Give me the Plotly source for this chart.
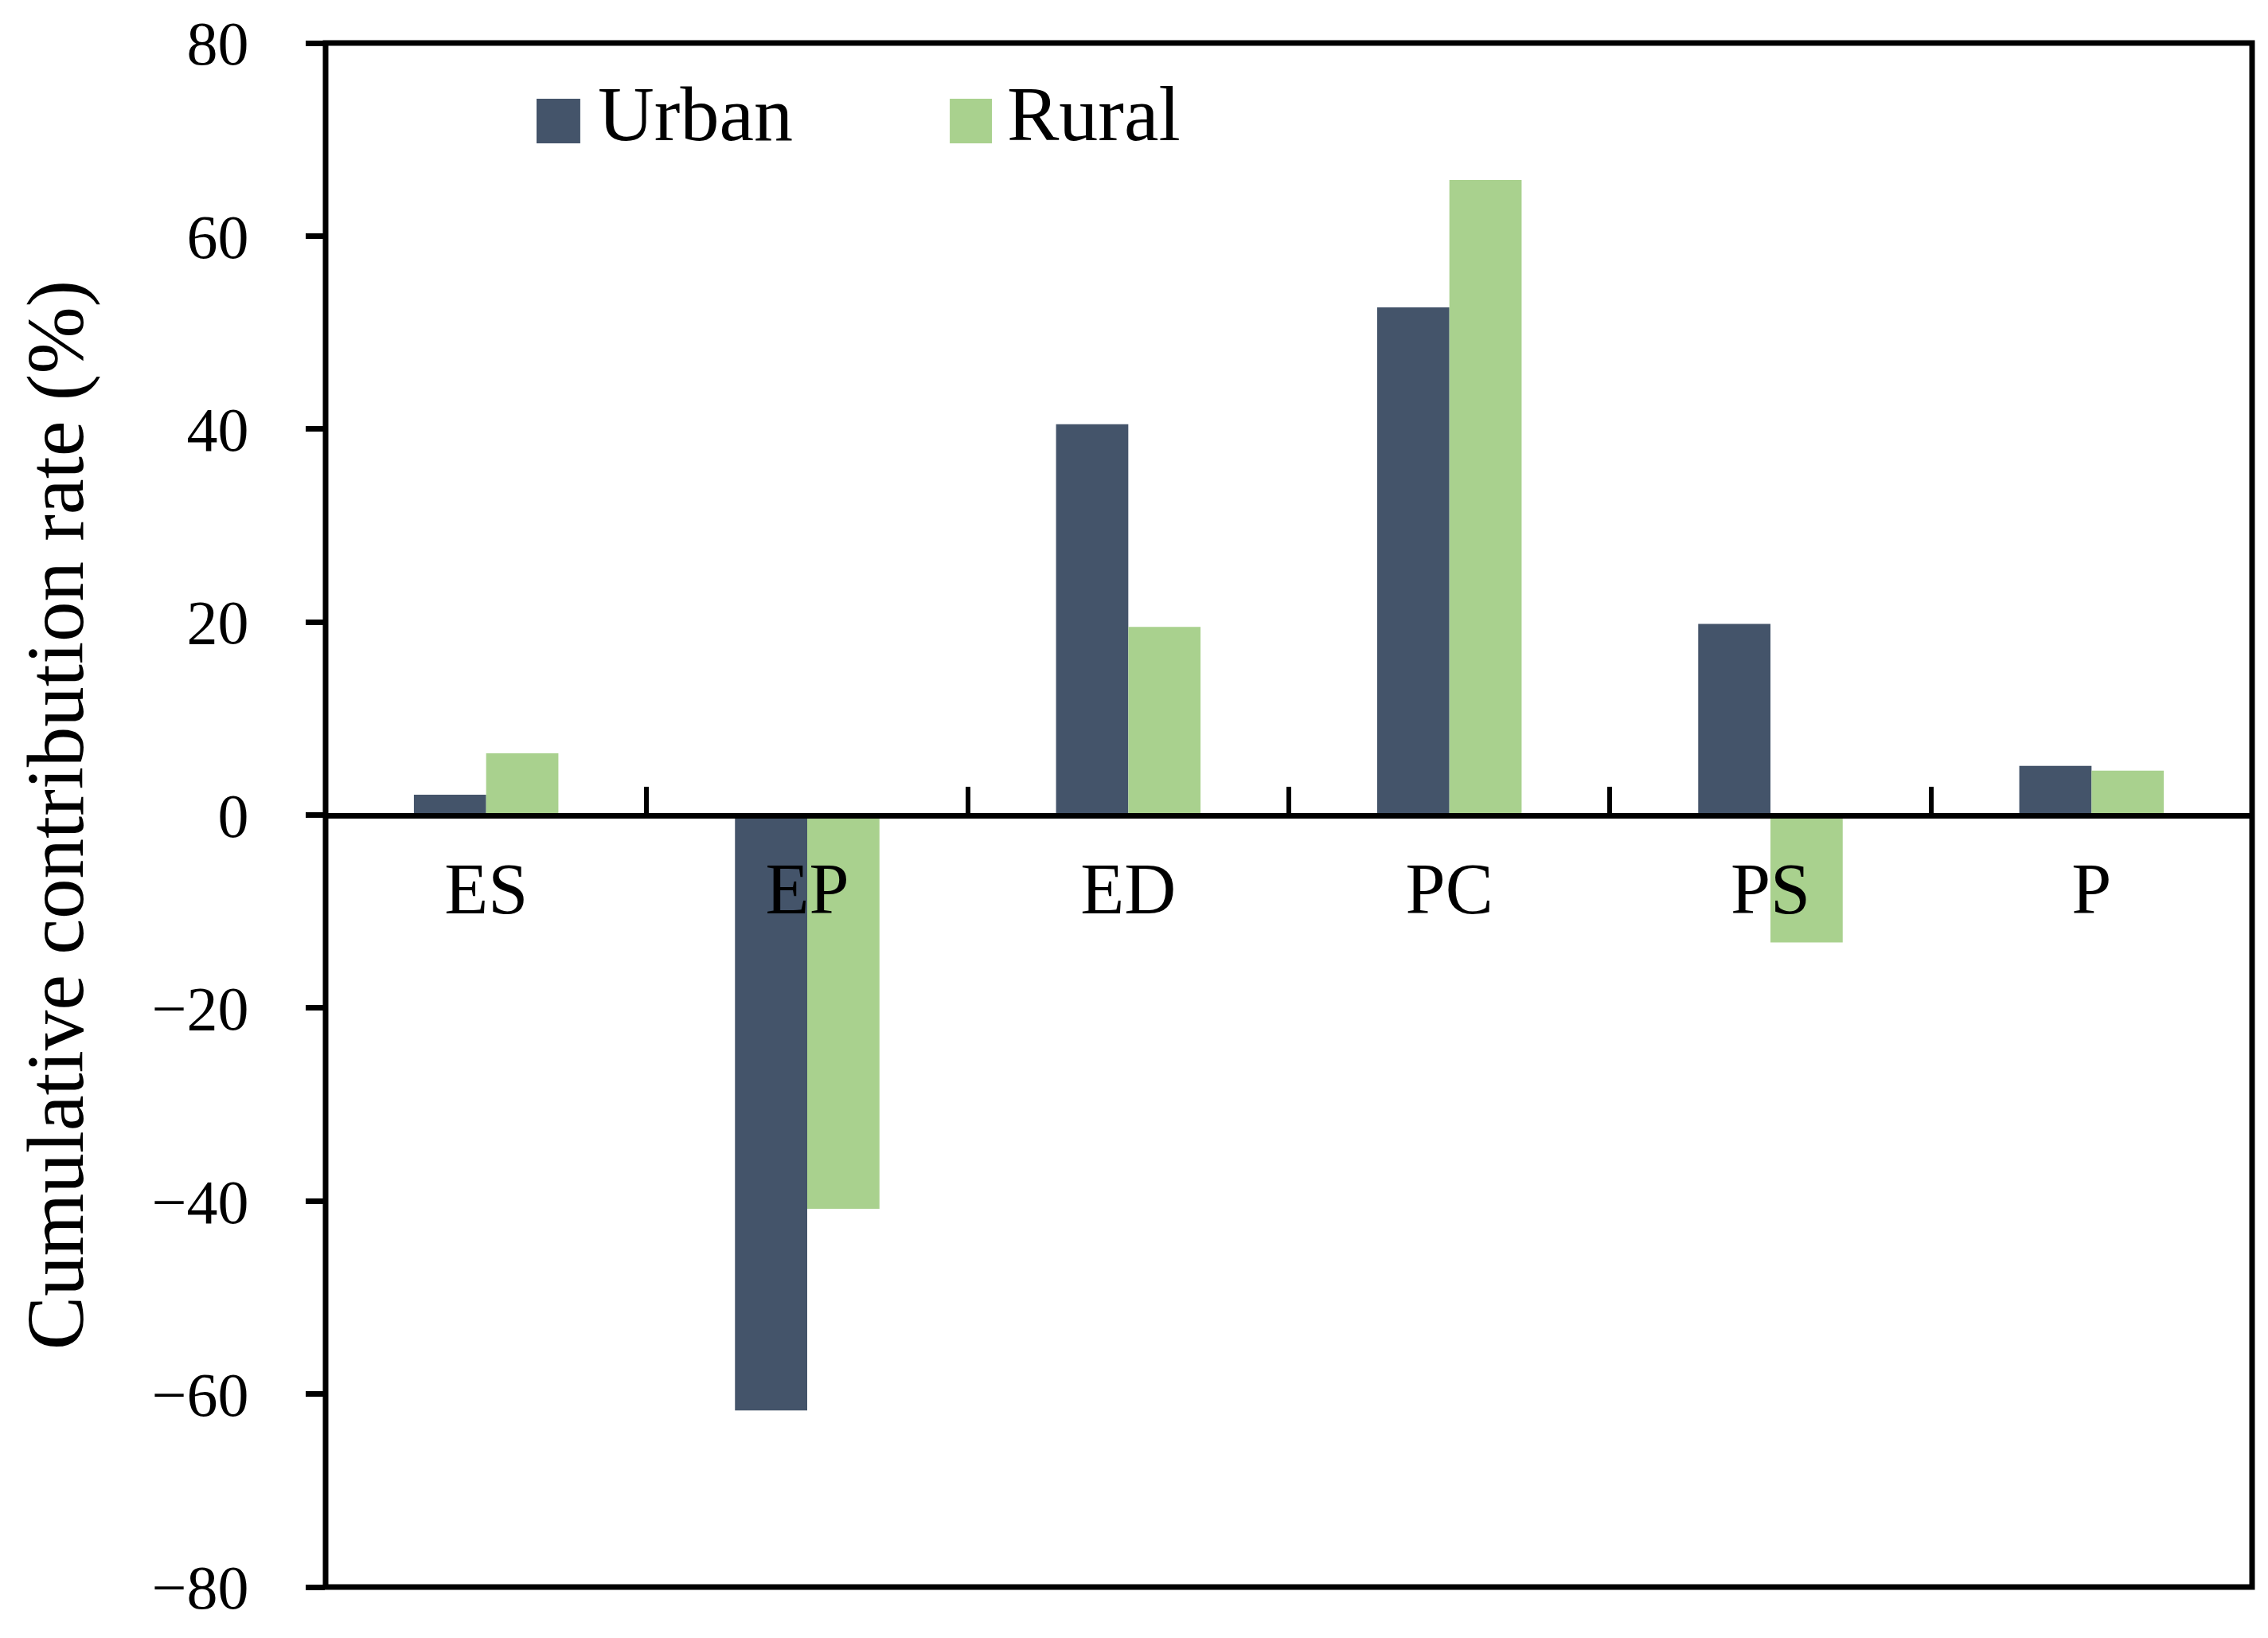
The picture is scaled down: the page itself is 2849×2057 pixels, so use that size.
import plotly.graph_objects as go

categories = ["ES", "EP", "ED", "PC", "PS", "P"]
urban = [2.1, -61.7, 40.5, 52.6, 19.8, 5.1]
rural = [6.4, -40.8, 19.5, 65.8, -13.2, 4.6]
y_ticks = [80, 60, 40, 20, 0, -20, -40, -60, -80]

URBAN_COLOR = "#44546A"
RURAL_COLOR = "#A9D18E"
FONT = "Liberation Serif"

fig = go.Figure()
fig.add_trace(go.Bar(name="Urban", x=categories, y=urban,
                     marker=dict(color=URBAN_COLOR, line=dict(width=0)),
                     showlegend=False))
fig.add_trace(go.Bar(name="Rural", x=categories, y=rural,
                     marker=dict(color=RURAL_COLOR, line=dict(width=0)),
                     showlegend=False))

fig.update_layout(
    width=2833, height=2041,
    paper_bgcolor="white", plot_bgcolor="white",
    barmode="group", bargap=0.55, bargroupgap=0,
    margin=dict(l=401, r=12, t=46, b=56, autoexpand=False),
    font=dict(family=FONT, color="black"),
    xaxis=dict(
        type="category", range=[-0.5, 5.5],
        anchor="free", position=0.5,
        showline=True, linewidth=7, linecolor="black",
        ticks="inside", tickson="boundaries", ticklen=33, tickwidth=6,
        tickcolor="black", showgrid=False, zeroline=False,
        tickfont=dict(family=FONT, size=90, color="black"),
        ticklabelstandoff=11,
    ),
    yaxis=dict(
        range=[-80, 80], tickvals=y_ticks, domain=[0, 1],
        showline=False, zeroline=False, showgrid=False,
        ticks="outside", ticklen=24, tickwidth=7, tickcolor="black",
        tickfont=dict(family=FONT, size=78, color="black"),
        ticklabelstandoff=56,
        title=dict(text="Cumulative contribution rate (%)",
                   font=dict(family=FONT, size=101, color="black"),
                   standoff=52),
        automargin=False,
    ),
    shapes=[
        dict(type="rect", xref="paper", yref="paper", x0=0, x1=1, y0=0, y1=1,
             line=dict(color="black", width=7), layer="above"),
        dict(type="rect", xref="paper", yref="paper",
             x0=0.1095, x1=0.1322, y0=0.935, y1=0.9639,
             fillcolor=URBAN_COLOR, line=dict(width=0)),
        dict(type="rect", xref="paper", yref="paper",
             x0=0.324, x1=0.3459, y0=0.935, y1=0.9639,
             fillcolor=RURAL_COLOR, line=dict(width=0)),
    ],
    annotations=[
        dict(text="Urban", xref="paper", yref="paper", x=0.1405, y=0.954,
             xanchor="left", yanchor="middle", showarrow=False,
             font=dict(family=FONT, size=98, color="black")),
        dict(text="Rural", xref="paper", yref="paper", x=0.3528, y=0.954,
             xanchor="left", yanchor="middle", showarrow=False,
             font=dict(family=FONT, size=98, color="black")),
    ],
)

fig.write_html("out.html")
